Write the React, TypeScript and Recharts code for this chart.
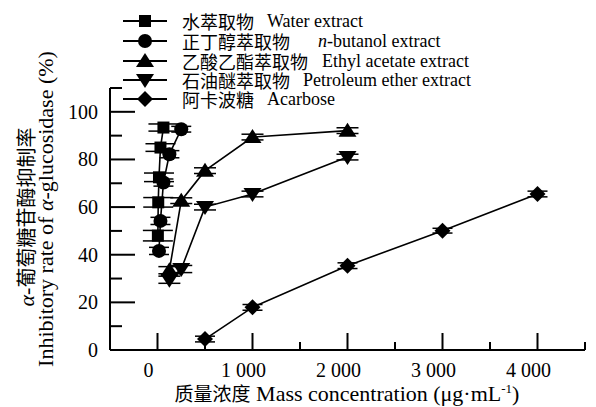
import React from "react";
import { ComposedChart, Scatter, XAxis, YAxis, ErrorBar } from "recharts";

const FONT = '"Liberation Serif", "Times New Roman", "Noto Sans CJK SC", serif';
const CJK = '"Noto Sans CJK SC", "Liberation Serif", serif';

// concentrations (µg/mL), inhibition (%), sd
const waterConc = [3.9, 7.8, 15.6, 31.25, 62.5];
const waterRate = [48, 62, 72.5, 85, 93.4];
const waterErr = [2.2, 2, 1.8, 1.6, 1.5];

const butanolConc = [15.6, 31.25, 62.5, 125, 250];
const butanolRate = [41.6, 54.2, 70.3, 82.2, 92.7];
const butanolErr = [1.5, 1.5, 1.5, 1.5, 1.2];

const ethylConc = [125, 250, 500, 1000, 2000];
const ethylRate = [33.5, 62.7, 75.3, 89.4, 92.1];
const ethylErr = [1.5, 1.2, 1.2, 1.2, 1.2];

const petroConc = [125, 250, 500, 1000, 2000];
const petroRate = [29.5, 34, 60, 65.5, 81];
const petroErr = [1.5, 1.5, 1.2, 1.2, 1.2];

const acarboseConc = [500, 1000, 2000, 3000, 4000];
const acarboseRate = [4.6, 17.9, 35.4, 50.1, 65.5];
const acarboseErr = [1.2, 1.2, 1.2, 1, 1.2];

const xTicks = [0, 500, 1000, 1500, 2000, 2500, 3000, 3500, 4000, 4500];
const yTicks = [0, 10, 20, 30, 40, 50, 60, 70, 80, 90, 100, 110];

const toPoints = (xs: number[], ys: number[], es: number[]) =>
  xs.map((x, i) => ({ x, y: ys[i], err: es[i] }));

const water = toPoints(waterConc, waterRate, waterErr);
const butanol = toPoints(butanolConc, butanolRate, butanolErr);
const ethyl = toPoints(ethylConc, ethylRate, ethylErr);
const petro = toPoints(petroConc, petroRate, petroErr);
const acarbose = toPoints(acarboseConc, acarboseRate, acarboseErr);

type Kind = "square" | "circle" | "up" | "down" | "diamond";

function Marker({ cx, cy, kind }: { cx: number; cy: number; kind: Kind }) {
  if (cx == null || cy == null) return null;
  switch (kind) {
    case "square":
      return <rect x={cx - 6} y={cy - 6} width={12} height={12} fill="#000" />;
    case "circle":
      return <circle cx={cx} cy={cy} r={7} fill="#000" />;
    case "up":
      return <path d={`M${cx},${cy - 8} L${cx + 9},${cy + 6} L${cx - 9},${cy + 6} Z`} fill="#000" />;
    case "down":
      return <path d={`M${cx},${cy + 8} L${cx + 9},${cy - 6} L${cx - 9},${cy - 6} Z`} fill="#000" />;
    default:
      return <path d={`M${cx},${cy - 8} L${cx + 8},${cy} L${cx},${cy + 8} L${cx - 8},${cy} Z`} fill="#000" />;
  }
}

const shapeOf = (kind: Kind) => (p: any) => <Marker cx={p.cx} cy={p.cy} kind={kind} />;

function XTick(props: any) {
  const { x, y, payload } = props;
  const v = payload.value as number;
  const axisY = y - 13;
  const major = v % 1000 === 0;
  return (
    <g>
      <line x1={x} x2={x} y1={axisY} y2={axisY - (major ? 17 : 8)} stroke="#000" strokeWidth={2} />
      {major && (
        <text x={x - 9} y={y} dy="0.71em" textAnchor="middle" fontSize={20} fontFamily={FONT} fill="#000">
          {v === 0 ? "0" : `${v / 1000} 000`}
        </text>
      )}
    </g>
  );
}

function YTick(props: any) {
  const { x, y, payload } = props;
  const v = payload.value as number;
  const axisX = x + 12;
  const major = v % 20 === 0;
  return (
    <g>
      {v > 0 && (
        <line x1={axisX} x2={axisX + (major ? 25 : 12)} y1={y} y2={y} stroke="#000" strokeWidth={2} />
      )}
      {major && v <= 100 && (
        <text x={x} y={y} dy="0.35em" textAnchor="end" fontSize={20} fontFamily={FONT} fill="#000">
          {v}
        </text>
      )}
    </g>
  );
}

const xTitle = () => (
  <text x={347} y={401} textAnchor="middle" fontSize={22} fontFamily={FONT} fill="#000">
    <tspan fontFamily={CJK} fontSize={19}>质量浓度</tspan>
    <tspan> Mass concentration (μg·mL</tspan>
    <tspan fontSize={13} dy={-8}>-1</tspan>
    <tspan dy={8}>)</tspan>
  </text>
);

const yTitle = () => (
  <g fill="#000">
    <text transform="translate(34,217) rotate(-90)" textAnchor="middle" fontSize={22} fontFamily={FONT}>
      <tspan fontStyle="italic">α</tspan>
      <tspan>-</tspan>
      <tspan fontFamily={CJK} fontSize={20}>葡萄糖苷酶抑制率</tspan>
    </text>
    <text transform="translate(53,209) rotate(-90)" textAnchor="middle" fontSize={22} fontFamily={FONT}>
      Inhibitory rate of <tspan fontStyle="italic">α</tspan>-glucosidase (%)
    </text>
  </g>
);

const legendItems: { kind: Kind; zh: string; en: React.ReactNode; gap: number }[] = [
  { kind: "square", zh: "水萃取物", en: "Water extract", gap: 13 },
  { kind: "circle", zh: "正丁醇萃取物", en: <><i>n</i>-butanol extract</>, gap: 28 },
  { kind: "up", zh: "乙酸乙酯萃取物", en: "Ethyl acetate extract", gap: 14 },
  { kind: "down", zh: "石油醚萃取物", en: "Petroleum ether extract", gap: 13 },
  { kind: "diamond", zh: "阿卡波糖", en: "Acarbose", gap: 13 },
];

const legendRowY = [21, 41, 61, 80, 99];

function LegendBox() {
  return (
    <div style={{ position: "absolute", left: 0, top: 0, width: 596, height: 120, pointerEvents: "none" }}>
      {legendItems.map((it, i) => (
        <div
          key={it.zh}
          style={{
            position: "absolute",
            left: 120,
            top: legendRowY[i] - 9,
            height: 18,
            display: "flex",
            alignItems: "center",
            whiteSpace: "nowrap",
          }}
        >
          <svg width={50} height={18} style={{ overflow: "visible" }}>
            <line x1={3} x2={47} y1={9} y2={9} stroke="#000" strokeWidth={2} />
            <Marker cx={25} cy={9} kind={it.kind} />
          </svg>
          <span style={{ marginLeft: 12, fontFamily: CJK, fontSize: 18, lineHeight: "18px" }}>{it.zh}</span>
          <span style={{ marginLeft: it.gap, fontFamily: FONT, fontSize: 18, lineHeight: "18px" }}>{it.en}</span>
        </div>
      ))}
    </div>
  );
}

const series: { name: string; data: any[]; kind: Kind; cap: number }[] = [
  { name: "acarbose", data: acarbose, kind: "diamond", cap: 10 },
  { name: "petro", data: petro, kind: "down", cap: 11 },
  { name: "ethyl", data: ethyl, kind: "up", cap: 11 },
  { name: "water", data: water, kind: "square", cap: 15 },
  { name: "butanol", data: butanol, kind: "circle", cap: 10 },
];

export default function App() {
  return (
    <div style={{ position: "absolute", left: 0, top: 0, width: 596, height: 407, background: "#fff" }}>
      <ComposedChart width={596} height={407} margin={{ top: 88, right: 11, left: 0, bottom: 0 }}>
        <XAxis
          type="number"
          dataKey="x"
          domain={[-500, 4500]}
          ticks={xTicks}
          interval={0}
          height={57}
          tickSize={0}
          tickMargin={13}
          tickLine={false}
          axisLine={{ stroke: "#000", strokeWidth: 2 }}
          tick={XTick}
          allowDataOverflow
          label={{ content: xTitle }}
        />
        <YAxis
          type="number"
          dataKey="y"
          domain={[0, 110]}
          ticks={yTicks}
          interval={0}
          width={110}
          tickSize={0}
          tickMargin={12}
          tickLine={false}
          axisLine={{ stroke: "#000", strokeWidth: 2 }}
          tick={YTick}
          allowDataOverflow
          label={{ content: yTitle }}
        />
        {series.map((s) => (
          <Scatter
            key={s.name}
            name={s.name}
            data={s.data}
            line={{ stroke: "#000", strokeWidth: 1.6 }}
            lineType="joint"
            shape={shapeOf(s.kind)}
            isAnimationActive={false}
          >
            <ErrorBar dataKey="err" direction="y" width={s.cap} stroke="#000" strokeWidth={1.5} isAnimationActive={false} />
          </Scatter>
        ))}
      </ComposedChart>
      <LegendBox />
    </div>
  );
}
